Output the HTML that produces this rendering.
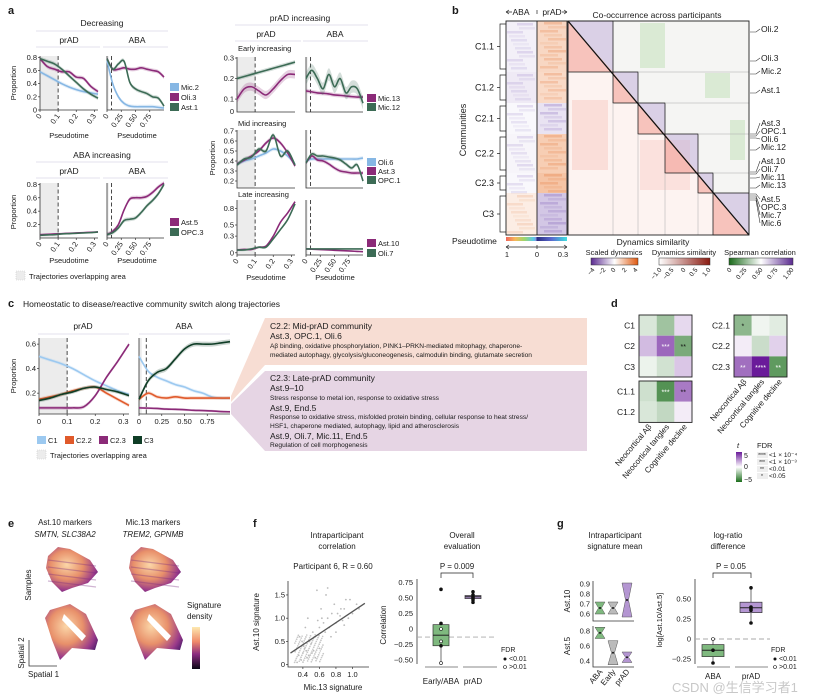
<!DOCTYPE html>
<html><head><meta charset="utf-8">
<style>
html,body{margin:0;padding:0;background:#fff;}
svg{display:block;font-family:"Liberation Sans","Noto Sans CJK SC",sans-serif;}
</style></head>
<body>
<svg id="fig" width="825" height="700" viewBox="0 0 825 700" xmlns="http://www.w3.org/2000/svg">
<defs>
<linearGradient id="gPseudo" x1="0" x2="1" y1="0" y2="0">
<stop offset="0" stop-color="#f0645a"/><stop offset="0.15" stop-color="#f7b85a"/><stop offset="0.3" stop-color="#9fd66a"/><stop offset="0.45" stop-color="#58c8e8"/><stop offset="0.5" stop-color="#8a90e0"/><stop offset="0.5" stop-color="#2a2c80"/><stop offset="0.75" stop-color="#5a6ad0"/><stop offset="1" stop-color="#3ee0e0"/></linearGradient>
<linearGradient id="gScaled" x1="0" x2="1"><stop offset="0" stop-color="#5a2a90"/><stop offset="0.5" stop-color="#ffffff"/><stop offset="1" stop-color="#e05a10"/></linearGradient>
<linearGradient id="gDyn" x1="0" x2="1"><stop offset="0" stop-color="#ffffff"/><stop offset="1" stop-color="#8a1a10"/></linearGradient>
<linearGradient id="gSpear" x1="0" x2="1"><stop offset="0" stop-color="#1a6a1a"/><stop offset="0.5" stop-color="#ffffff"/><stop offset="1" stop-color="#5a2a90"/></linearGradient>
<linearGradient id="gT" x1="0" x2="0" y1="0" y2="1"><stop offset="0" stop-color="#6a1b9a"/><stop offset="0.5" stop-color="#ffffff"/><stop offset="1" stop-color="#1b6e1b"/></linearGradient>
<linearGradient id="gSig" x1="0" x2="0" y1="0" y2="1"><stop offset="0" stop-color="#fde9b0"/><stop offset="0.35" stop-color="#f08a6a"/><stop offset="0.65" stop-color="#8a2a80"/><stop offset="1" stop-color="#0a0614"/></linearGradient>
<radialGradient id="gTis" cx="0.4" cy="0.4" r="0.7"><stop offset="0" stop-color="#fbd6a8"/><stop offset="0.45" stop-color="#e8906a"/><stop offset="0.8" stop-color="#9a3a8a"/><stop offset="1" stop-color="#4a1a6a"/></radialGradient>
</defs>
</svg>
<script>
const NS='http://www.w3.org/2000/svg';
const svg=document.getElementById('fig');

/* ---------- DATA ---------- */
const xPrad=[0,0.04,0.08,0.12,0.16,0.2,0.24,0.28,0.32];
const xAba=[0,0.1,0.2,0.3,0.4,0.5,0.6,0.7,0.8,0.9,1];
const decPradMic2=[0.58,0.52,0.46,0.40,0.35,0.31,0.28,0.26,0.24];
const decPradOli3=[0.78,0.66,0.62,0.58,0.58,0.50,0.48,0.36,0.28];
const decPradAst1=[0.78,0.74,0.70,0.62,0.52,0.42,0.32,0.24,0.18];
const decAbaMic2=[0.75,0.40,0.20,0.10,0.06,0.05,0.05,0.05,0.05,0.04,0.03];
const decAbaOli3=[0.78,0.62,0.62,0.64,0.62,0.62,0.64,0.62,0.60,0.58,0.50];
const decAbaAst1=[0.78,0.62,0.70,0.74,0.42,0.32,0.28,0.25,0.20,0.18,0.06];
const abaPradAst5=[0.05,0.055,0.06,0.065,0.07,0.075,0.08,0.085,0.09];
const abaPradOpc3=[0.04,0.045,0.05,0.06,0.065,0.07,0.075,0.08,0.09];
const abaAbaAst5=[0.05,0.10,0.20,0.42,0.58,0.60,0.60,0.62,0.68,0.76,0.82];
const abaAbaOpc3=[0.05,0.08,0.15,0.26,0.28,0.30,0.38,0.48,0.56,0.66,0.80];
const earlyPradMic13=[0.10,0.15,0.16,0.14,0.12,0.15,0.19,0.22,0.22];
const earlyPradMic12=[0.20,0.21,0.22,0.23,0.24,0.25,0.26,0.27,0.28];
const earlyAbaMic13=[0.14,0.135,0.13,0.128,0.125,0.12,0.118,0.115,0.112,0.11,0.11];
const earlyAbaMic12=[0.20,0.24,0.20,0.15,0.22,0.16,0.20,0.13,0.16,0.15,0.08];
const midPradOli6=[0.37,0.40,0.42,0.45,0.48,0.52,0.50,0.45,0.37];
const midPradAst3=[0.37,0.41,0.45,0.50,0.58,0.63,0.58,0.48,0.35];
const midPradOpc1=[0.36,0.42,0.44,0.52,0.50,0.66,0.45,0.50,0.36];
const midAbaOli6=[0.40,0.42,0.42,0.42,0.42,0.42,0.42,0.42,0.42,0.42,0.43];
const midAbaAst3=[0.38,0.45,0.41,0.40,0.37,0.33,0.30,0.29,0.28,0.28,0.28];
const midAbaOpc1=[0.38,0.47,0.45,0.45,0.44,0.43,0.41,0.37,0.33,0.36,0.20];
const latePradAst10=[0.05,0.06,0.06,0.10,0.12,0.30,0.55,0.72,0.92];
const latePradOli7=[0.05,0.05,0.07,0.10,0.10,0.25,0.42,0.60,0.88];
const lateAbaAst10=[0.07,0.065,0.06,0.055,0.05,0.045,0.04,0.035,0.03,0.025,0.02];
const lateAbaOli7=[0.07,0.07,0.07,0.07,0.07,0.07,0.07,0.07,0.07,0.07,0.07];
const cPradC1=[0.50,0.47,0.44,0.40,0.35,0.30,0.26,0.22,0.19];
const cPradC22=[0.15,0.17,0.19,0.22,0.24,0.25,0.20,0.15,0.10];
const cPradC23=[0.08,0.08,0.08,0.08,0.09,0.18,0.33,0.46,0.60];
const cPradC3=[0.14,0.16,0.19,0.21,0.24,0.25,0.23,0.21,0.18];
const cAbaC1=[0.50,0.38,0.33,0.30,0.27,0.25,0.22,0.20,0.17,0.16,0.16];
const cAbaC22=[0.15,0.20,0.17,0.16,0.17,0.16,0.16,0.16,0.16,0.16,0.16];
const cAbaC23=[0.08,0.078,0.075,0.07,0.068,0.065,0.06,0.058,0.055,0.05,0.048];
const cAbaC3=[0.15,0.30,0.37,0.40,0.48,0.56,0.60,0.60,0.60,0.61,0.62];
const communities=['C1.1','C1.2','C2.1','C2.2','C2.3','C3'];
const communityRows=[51,31,31,39,20,42];
const abaDyn=[-0.6,-0.8,-0.3,-0.4,-0.3,0.9];
const pradDyn=[1.6,1.5,-0.9,2.0,2.4,-1.8];
const dRowsLeft=['C1','C2','C3','C1.1','C1.2'];
const dRowsRight=['C2.1','C2.2','C2.3'];
const dCols=['Neocortical Aβ','Neocortical tangles','Cognitive decline'];
const tLeft=[[-1,-2.5,1],[1.8,4,-3.5],[-0.5,-1.2,1.5],[-1.3,-4.5,3.5],[-1,-1.6,0.5]];
const starsLeft=[['','',''],['','***','**'],['','',''],['','***','**'],['','','']];
const tRight=[[-3,-0.4,-0.8],[0.5,-1.4,1.2],[3.8,6,-4.2]];
const starsRight=[['*','',''],['','',''],['**','****','**']];
const scatterX=[0.3,0.35,0.4,0.42,0.45,0.5,0.55,0.6,0.65,0.7,0.75,0.8,0.85,0.9,0.95,1.0,1.05,0.38,0.44,0.48,0.52,0.58,0.62,0.68,0.72,0.78,0.82,0.88,0.92,0.36,0.41,0.47,0.53,0.57,0.63,0.67,0.74,0.86,0.97,1.08,0.33,0.39,0.43,0.46,0.51,0.55,0.6,0.7,0.8,0.9];
const scatterY=[0.3,0.2,0.25,0.35,0.15,0.45,0.6,0.8,0.9,1.0,1.1,0.9,1.05,1.2,1.0,1.1,1.3,0.1,0.3,0.5,0.7,0.95,1.2,1.5,0.8,1.3,1.1,0.95,1.4,0.6,0.4,0.2,0.3,1.6,1.0,0.7,0.6,1.2,1.4,1.2,0.05,0.5,0.8,1.0,0.25,0.15,0.35,1.65,0.7,0.85];
const fGroups=['Early/ABA','prAD'];
const fBox=[[-0.52,-0.27,-0.1,0.07,0.1],[0.43,0.49,0.52,0.54,0.6]];
const fPts=[[0.64,0.09,0,-0.2,-0.27,-0.55],[0.6,0.55,0.52,0.5,0.47,0.43]];
const fFilled=[[1,1,0,0,1,0],[1,1,1,1,1,1]];
const gGroups=['ABA','prAD'];
const gBox=[[-0.3,-0.22,-0.14,-0.07,0.0],[0.2,0.33,0.39,0.46,0.64]];
const gPts=[[0.0,-0.14,-0.3],[0.64,0.4,0.38,0.36,0.2]];
const violinGroups=['ABA','Early','prAD'];
const vAst10=[[0.6,0.72],[0.6,0.72],[0.57,0.91]];
const vAst5=[[0.7,0.85],[0.35,0.67],[0.38,0.52]];

/* ---------- HELPERS ---------- */
function mk(tag,attrs,name,parent){
  const e=document.createElementNS(NS,tag);
  for(const k in attrs) e.setAttribute(k,attrs[k]);
  
  
  (parent||svg).appendChild(e);
  return e;
}
function txt(x,y,s,size,anchor,name,o){
  o=o||{};
  const a={x:x,y:y,'font-size':size,'text-anchor':anchor||'start',fill:o.fill||'#1a1a1a'};
  if(o.rot!==undefined) a.transform=`rotate(${o.rot} ${x} ${y})`;
  if(o.italic) a['font-style']='italic';
  if(o.bold) a['font-weight']='bold';
  const t=mk('text',a,name);
  t.textContent=s;
  return t;
}
function sc(x0,y0,w,h,xd,yd){
  return {x0,y0,w,h,x:v=>x0+(v-xd[0])/(xd[1]-xd[0])*w,y:v=>y0+h-(v-yd[0])/(yd[1]-yd[0])*h};
}
function smooth(p){
  let d=`M${p[0][0].toFixed(2)},${p[0][1].toFixed(2)}`;
  for(let i=0;i<p.length-1;i++){
    const p0=p[i-1]||p[i],p1=p[i],p2=p[i+1],p3=p[i+2]||p2;
    d+=` C${(p1[0]+(p2[0]-p0[0])/6).toFixed(2)},${(p1[1]+(p2[1]-p0[1])/6).toFixed(2)} ${(p2[0]-(p3[0]-p1[0])/6).toFixed(2)},${(p2[1]-(p3[1]-p1[1])/6).toFixed(2)} ${p2[0].toFixed(2)},${p2[1].toFixed(2)}`;
  }
  return d;
}
function series(s,xs,ys,color,name,bw){
  bw=bw||0.03;
  const up=xs.map((x,i)=>[s.x(x),s.y(ys[i]+bw)]);
  const lo=xs.map((x,i)=>[s.x(x),s.y(ys[i]-bw)]).reverse();
  mk('path',{d:smooth(up)+' L'+lo[0][0]+','+lo[0][1]+smooth(lo).replace(/^M[^C]*/,' ')+' Z',fill:color,opacity:0.22,stroke:'none'},name+'-band');
  mk('path',{d:smooth(xs.map((x,i)=>[s.x(x),s.y(ys[i])])),fill:'none',stroke:color,'stroke-width':1.6},name+'-line');
}
function frame(s,type,name){
  if(type==='prad'){
    mk('rect',{x:s.x(0),y:s.y0,width:s.x(0.1)-s.x(0),height:s.h,fill:'#ececec'},name+'-overlap-area');
    mk('line',{x1:s.x(0.1),x2:s.x(0.1),y1:s.y0,y2:s.y0+s.h,stroke:'#333','stroke-width':0.9,'stroke-dasharray':'4,2.5'},name+'-cutoff');
  } else {
    mk('rect',{x:s.x(0),y:s.y0,width:s.x(0.03)-s.x(0),height:s.h,fill:'#ececec'},name+'-overlap-area');
    mk('line',{x1:s.x(0.08),x2:s.x(0.08),y1:s.y0,y2:s.y0+s.h,stroke:'#333','stroke-width':0.9,'stroke-dasharray':'4,2.5'},name+'-cutoff');
  }
  mk('path',{d:`M${s.x0},${s.y0} V${s.y0+s.h} H${s.x0+s.w}`,fill:'none',stroke:'#333','stroke-width':0.8},name+'-axes');
}
function yTicks(s,vals,labels,name){
  vals.forEach((v,i)=>{
    mk('line',{x1:s.x0-2,x2:s.x0,y1:s.y(v),y2:s.y(v),stroke:'#333','stroke-width':0.7},name+'-ytick');
    txt(s.x0-3,s.y(v)+2.5,labels[i],7.5,'end',name+'-ytick-label');
  });
}
function xTicks(s,vals,labels,name,rot){
  vals.forEach((v,i)=>{
    mk('line',{x1:s.x(v),x2:s.x(v),y1:s.y0+s.h,y2:s.y0+s.h+2,stroke:'#333','stroke-width':0.7},name+'-xtick');
    if(rot) txt(s.x(v)+2,s.y0+s.h+6,labels[i],7.5,'end',name+'-xtick-label',{rot:-55});
    else txt(s.x(v),s.y0+s.h+10,labels[i],7.5,'middle',name+'-xtick-label');
  });
}
function legend(x,y,label,color,name){
  mk('rect',{x:x,y:y-6,width:9,height:8,fill:color},name+'-swatch');
  txt(x+11,y+1,label,7.5,'start',name+'-label');
}
function hline(x1,x2,y,name){mk('line',{x1,x2,y1:y,y2:y,stroke:'#e3e0ee','stroke-width':1},name);}

const cMic2='#86b7e4',cPur='#8b2a78',cGrn='#3c6b55';

/* ---------- PANEL A ---------- */
txt(8,14,'a',11,'start','panel-a-label',{bold:true});
txt(102,26,'Decreasing',8.5,'middle','decreasing-title');
hline(36,168,31,'decreasing-title-rule');
txt(69,43,'prAD',8.5,'middle','decreasing-prad-strip'); txt(137,43,'ABA',8.5,'middle','decreasing-aba-strip');
hline(36,100,47,'strip-rule'); hline(103,168,47,'strip-rule');
let s=sc(40,56,58,54,[0,0.32],[0,0.82]);
frame(s,'prad','decreasing-prad-plot');
series(s,xPrad,decPradMic2,cMic2,'decreasing-prad-mic2');
series(s,xPrad,decPradOli3,cPur,'decreasing-prad-oli3');
series(s,xPrad,decPradAst1,cGrn,'decreasing-prad-ast1');
yTicks(s,[0,0.2,0.4,0.6,0.8],['0','0.2','0.4','0.6','0.8'],'decreasing-prad');
xTicks(s,[0,0.1,0.2,0.3],['0','0.1','0.2','0.3'],'decreasing-prad',true);
s=sc(107,56,57,54,[0,1],[0,0.82]);
frame(s,'aba','decreasing-aba-plot');
series(s,xAba,decAbaMic2,cMic2,'decreasing-aba-mic2');
series(s,xAba,decAbaOli3,cPur,'decreasing-aba-oli3');
series(s,xAba,decAbaAst1,cGrn,'decreasing-aba-ast1');
xTicks(s,[0,0.25,0.5,0.75],['0','0.25','0.50','0.75'],'decreasing-aba',true);
txt(16,83,'Proportion',7.5,'middle','decreasing-y-title',{rot:-90});
txt(69,138,'Pseudotime',7.5,'middle','x-title'); txt(137,138,'Pseudotime',7.5,'middle','x-title');
legend(170,89,'Mic.2',cMic2,'legend-mic2'); legend(170,99,'Oli.3',cPur,'legend-oli3'); legend(170,109,'Ast.1',cGrn,'legend-ast1');

txt(102,158,'ABA increasing',8.5,'middle','aba-increasing-title');
hline(36,168,162,'rule');
txt(69,174,'prAD',8.5,'middle','strip'); txt(137,174,'ABA',8.5,'middle','strip');
hline(36,100,178,'rule'); hline(103,168,178,'rule');
s=sc(40,183,58,55,[0,0.32],[0,0.82]);
frame(s,'prad','aba-inc-prad-plot');
series(s,xPrad,abaPradAst5,cPur,'aba-inc-prad-ast5',0.01);
series(s,xPrad,abaPradOpc3,cGrn,'aba-inc-prad-opc3',0.01);
yTicks(s,[0.2,0.4,0.6,0.8],['0.2','0.4','0.6','0.8'],'aba-inc-prad');
xTicks(s,[0,0.1,0.2,0.3],['0','0.1','0.2','0.3'],'aba-inc-prad',true);
s=sc(107,183,57,55,[0,1],[0,0.82]);
frame(s,'aba','aba-inc-aba-plot');
series(s,xAba,abaAbaAst5,cPur,'aba-inc-aba-ast5');
series(s,xAba,abaAbaOpc3,cGrn,'aba-inc-aba-opc3');
xTicks(s,[0,0.25,0.5,0.75],['0','0.25','0.50','0.75'],'aba-inc-aba',true);
txt(16,212,'Proportion',7.5,'middle','y-title',{rot:-90});
txt(69,263,'Pseudotime',7.5,'middle','x-title'); txt(137,263,'Pseudotime',7.5,'middle','x-title');
legend(170,224,'Ast.5',cPur,'legend-ast5'); legend(170,234,'OPC.3',cGrn,'legend-opc3');
mk('rect',{x:16,y:271,width:9,height:9,fill:'#ececec',stroke:'#ccc','stroke-dasharray':'1,1','stroke-width':0.6},'overlap-legend-swatch');
txt(29,279,'Trajectories overlapping area',7.5,'start','overlap-legend-label');

txt(300,21,'prAD increasing',8.5,'middle','prad-increasing-title');
hline(235,368,25,'rule');
txt(266,37,'prAD',8.5,'middle','strip'); txt(335,37,'ABA',8.5,'middle','strip');
hline(235,301,41,'rule'); hline(303,368,41,'rule');
txt(238,51,'Early increasing',7.5,'start','early-increasing-label');
s=sc(237,57,58,55,[0,0.32],[0.037,0.305]);
frame(s,'prad','early-prad-plot');
series(s,xPrad,earlyPradMic13,cPur,'early-prad-mic13',0.02);
series(s,xPrad,earlyPradMic12,cGrn,'early-prad-mic12',0.01);
yTicks(s,[0.1,0.2,0.3],['0.1','0.2','0.3'],'early-prad');
txt(234,114,'0',7.5,'end','early-zero-label');
let s2=sc(306,57,57,55,[0,1],[0.037,0.305]);
frame(s2,'aba','early-aba-plot');
series(s2,xAba,earlyAbaMic13,cPur,'early-aba-mic13',0.01);
series(s2,xAba,earlyAbaMic12,cGrn,'early-aba-mic12',0.03);
legend(367,100,'Mic.13',cPur,'legend-mic13'); legend(367,109,'Mic.12',cGrn,'legend-mic12');
txt(238,126,'Mid increasing',7.5,'start','mid-increasing-label');
s=sc(237,130,58,58,[0,0.32],[0.13,0.71]);
frame(s,'prad','mid-prad-plot');
series(s,xPrad,midPradOli6,cMic2,'mid-prad-oli6',0.02);
series(s,xPrad,midPradAst3,cPur,'mid-prad-ast3',0.02);
series(s,xPrad,midPradOpc1,cGrn,'mid-prad-opc1',0.02);
yTicks(s,[0.2,0.3,0.4,0.5,0.6,0.7],['0.2','0.3','0.4','0.5','0.6','0.7'],'mid-prad');
s2=sc(306,130,57,58,[0,1],[0.13,0.71]);
frame(s2,'aba','mid-aba-plot');
series(s2,xAba,midAbaOli6,cMic2,'mid-aba-oli6',0.02);
series(s2,xAba,midAbaAst3,cPur,'mid-aba-ast3',0.02);
series(s2,xAba,midAbaOpc1,cGrn,'mid-aba-opc1',0.02);
legend(367,164,'Oli.6',cMic2,'legend-oli6'); legend(367,173,'Ast.3',cPur,'legend-ast3'); legend(367,182,'OPC.1',cGrn,'legend-opc1');
txt(215,158,'Proportion',7.5,'middle','y-title',{rot:-90});
txt(238,197,'Late increasing',7.5,'start','late-increasing-label');
s=sc(237,200,58,55,[0,0.32],[-0.04,0.95]);
frame(s,'prad','late-prad-plot');
series(s,xPrad,latePradAst10,cPur,'late-prad-ast10',0.02);
series(s,xPrad,latePradOli7,cGrn,'late-prad-oli7',0.02);
yTicks(s,[0,0.3,0.5,0.8],['0','0.3','0.5','0.8'],'late-prad');
xTicks(s,[0,0.1,0.2,0.3],['0','0.1','0.2','0.3'],'late-prad',true);
s2=sc(306,200,57,55,[0,1],[-0.04,0.95]);
frame(s2,'aba','late-aba-plot');
series(s2,xAba,lateAbaAst10,cPur,'late-aba-ast10',0.01);
series(s2,xAba,lateAbaOli7,cGrn,'late-aba-oli7',0.01);
xTicks(s2,[0,0.25,0.5,0.75],['0','0.25','0.50','0.75'],'late-aba',true);
legend(367,245,'Ast.10',cPur,'legend-ast10'); legend(367,255,'Oli.7',cGrn,'legend-oli7');
txt(266,280,'Pseudotime',7.5,'middle','x-title'); txt(335,280,'Pseudotime',7.5,'middle','x-title');

/* ---------- PANEL B ---------- */
txt(452,14,'b',11,'start','panel-b-label',{bold:true});
txt(521,15,'ABA',8.5,'middle','b-aba-header'); txt(552,15,'prAD',8.5,'middle','b-prad-header');
txt(657,18,'Co-occurrence across participants',8.5,'middle','b-matrix-title');
function dynColor(v,a){ return v>=0 ? `rgba(232,120,50,${Math.min(1,v/3)*a})` : `rgba(120,85,175,${Math.min(1,-v/3)*a})`; }
let yy=21;
communityRows.forEach((r,i)=>{
  const h=r;
  mk('rect',{x:506,y:yy,width:31,height:h,fill:dynColor(abaDyn[i],0.45)},'aba-dynamics-'+communities[i]);
  mk('rect',{x:537,y:yy,width:30,height:h,fill:dynColor(pradDyn[i],0.55)},'prad-dynamics-'+communities[i]);
  for(let k=1;k<h-2;k+=4){
    const op=0.08+((k*13)%7)/40;
    mk('rect',{x:537+((k*7)%12),y:yy+k,width:18,height:2.5,fill:pradDyn[i]>0?`rgba(225,100,30,${op})`:`rgba(100,60,170,${op})`},'dynamics-row');
    mk('rect',{x:506+((k*11)%14),y:yy+k+1,width:16,height:2.5,fill:abaDyn[i]>0?`rgba(230,130,70,${op*0.8})`:`rgba(130,100,190,${op*0.8})`},'dynamics-row');
  }
  txt(494,yy+h/2+3,communities[i],9,'end','community-label-'+communities[i]);
  mk('path',{d:`M506,${yy+3} H500 V${yy+h-3} H506 M500,${yy+h/2} H497`,fill:'none',stroke:'#222','stroke-width':0.7},'dendrogram');
  yy+=h;
});
mk('rect',{x:506,y:21,width:61,height:214,fill:'none',stroke:'#222','stroke-width':0.9},'b-left-heatmap-border');
mk('line',{x1:537,x2:537,y1:21,y2:235,stroke:'#222','stroke-width':0.9},'b-heatmap-divider');
mk('path',{d:'M506,12 H512 M506,12 l3,-2 M506,12 l3,2 M567,12 H562 M567,12 l-3,-2 M567,12 l-3,2 M537,10 V14',stroke:'#222','stroke-width':0.7,fill:'none'},'b-header-arrow');
txt(466,130,'Communities',9,'middle','communities-axis-title',{rot:-90});
const M0=568,M1=749,T0=21,T1=235;
mk('rect',{x:M0,y:T0,width:M1-M0,height:T1-T0,fill:'#fff'},'matrix-bg');
mk('polygon',{points:`${M0},${T0} ${M0},${T1} ${M1},${T1}`,fill:'#fdf3f1'},'matrix-lower-dynamics-similarity');
mk('polygon',{points:`${M0},${T0} ${M1},${T0} ${M1},${T1}`,fill:'#f5f5f3'},'matrix-upper-spearman');
const blk=[568,613,638,665,698,713,749], blkY=[21,72,103,134,173,193,235];
const gp=[[640,23,25,45],[705,73,25,25],[730,120,15,40]];
gp.forEach(g=>mk('rect',{x:g[0],y:g[1],width:g[2],height:g[3],fill:'#cfe6c6',opacity:0.7},'spearman-green-patch'));
mk('rect',{x:572,y:100,width:36,height:70,fill:'#f9d0ca',opacity:0.6},'similarity-patch');
mk('rect',{x:640,y:140,width:50,height:50,fill:'#f9d0ca',opacity:0.5},'similarity-patch');
for(let i=0;i<6;i++){
  const x0=blk[i],x1=blk[i+1],y0=blkY[i],y1=blkY[i+1];
  mk('polygon',{points:`${x0},${y0} ${x0},${y1} ${x1},${y1}`,fill:'#f39a90',opacity:0.55},'block-similarity-'+communities[i]);
  mk('polygon',{points:`${x0},${y0} ${x1},${y0} ${x1},${y1}`,fill:'#c2b0da',opacity:0.55},'block-cooccurrence-'+communities[i]);
  mk('rect',{x:x0,y:y0,width:x1-x0,height:y1-y0,fill:'none',stroke:'#222','stroke-width':0.8},'block-outline-'+communities[i]);
  mk('path',{d:`M${x0},${y1} V${T1} M${x1},${y0} H${M1}`,stroke:'#aaa','stroke-width':0.5,fill:'none'},'block-guides');
}
mk('line',{x1:M0,y1:T0,x2:M1,y2:T1,stroke:'#111','stroke-width':1.3},'matrix-diagonal');
mk('rect',{x:M0,y:T0,width:M1-M0,height:T1-T0,fill:'none',stroke:'#222','stroke-width':0.9},'matrix-border');
const rl=[['Oli.2',32,32],['Oli.3',61,61],['Mic.2',74,74],['Ast.1',93,93],['Ast.3',126,134],['OPC.1',134,136],['Oli.6',142,138],['Mic.12',150,150],['Ast.10',164,172],['Oli.7',172,174],['Mic.11',180,178],['Mic.13',188,188],['Ast.5',202,194],['OPC.3',210,196],['Mic.7',218,198],['Mic.6',226,200]];
rl.forEach(r=>{
  mk('path',{d:`M750,${r[2]} L756,${r[2]} L760,${r[1]-3}`,fill:'none',stroke:'#333','stroke-width':0.6},'label-leader');
  txt(761,r[1],r[0],8.5,'start','matrix-row-label-'+r[0]);
});
txt(452,244,'Pseudotime',8.5,'start','pseudotime-label');
mk('rect',{x:506,y:237,width:61,height:4,fill:'url(#gPseudo)'},'pseudotime-colorbar');
mk('path',{d:'M506,247 H567 M506,247 l3,-2 M506,247 l3,2 M567,247 l-3,-2 M567,247 l-3,2 M537,245 V249',stroke:'#222','stroke-width':0.7,fill:'none'},'pseudotime-arrow');
txt(507,257,'1',7.5,'middle','pt-tick'); txt(537,257,'0',7.5,'middle','pt-tick'); txt(563,257,'0.3',7.5,'middle','pt-tick');
txt(653,245,'Dynamics similarity',8.5,'middle','dynamics-similarity-axis-title');
txt(614,255,'Scaled dynamics',7.5,'middle','scaled-dynamics-legend-title');
mk('rect',{x:591,y:258,width:47,height:7,fill:'url(#gScaled)',stroke:'#333','stroke-width':0.5},'scaled-dynamics-colorbar');
[['−4',593],['−2',604],['0',614],['2',625],['4',636]].forEach(t=>txt(t[1]+2,270,t[0],6.5,'end','scaled-tick',{rot:-50}));
txt(684,255,'Dynamics similarity',7.5,'middle','dynamics-similarity-legend-title');
mk('rect',{x:659,y:258,width:51,height:7,fill:'url(#gDyn)',stroke:'#333','stroke-width':0.5},'dynamics-similarity-colorbar');
[['−1.0',660],['−0.5',672],['0',684],['0.5',696],['1.0',709]].forEach(t=>txt(t[1]+2,270,t[0],6.5,'end','dyn-tick',{rot:-50}));
txt(760,255,'Spearman correlation',7.5,'middle','spearman-legend-title');
mk('rect',{x:729,y:258,width:64,height:7,fill:'url(#gSpear)',stroke:'#333','stroke-width':0.5},'spearman-colorbar');
[['0',730],['0.25',745],['0.50',761],['0.75',776],['1.00',792]].forEach(t=>txt(t[1]+2,270,t[0],6.5,'end','spear-tick',{rot:-50}));

/* ---------- PANEL C ---------- */
txt(8,307,'c',11,'start','panel-c-label',{bold:true});
txt(23,307,'Homeostatic to disease/reactive community switch along trajectories',8.5,'start','panel-c-title');
txt(83,329,'prAD',8.5,'middle','c-prad-strip'); txt(184,329,'ABA',8.5,'middle','c-aba-strip');
hline(38,129,334,'rule'); hline(139,230,334,'rule');
const cC1='#9cc9f0',cC22='#e05a2b',cC23='#8b2a78',cC3='#0f3d26';
mk('polygon',{points:'231,396 265,318 265,365 231,402',fill:'#f7ddd3'},'c22-connector');
mk('polygon',{points:'231,404 265,371 265,451 231,414',fill:'#e6d5e4'},'c23-connector');
s=sc(39,338,90,76,[0,0.32],[0.03,0.65]);
frame(s,'prad','c-prad-plot');
series(s,xPrad,cPradC1,cC1,'c-prad-c1',0.015);
series(s,xPrad,cPradC22,cC22,'c-prad-c22',0.015);
series(s,xPrad,cPradC23,cC23,'c-prad-c23',0.015);
series(s,xPrad,cPradC3,cC3,'c-prad-c3',0.015);
yTicks(s,[0.2,0.4,0.6],['0.2','0.4','0.6'],'c-prad');
xTicks(s,[0,0.1,0.2,0.3],['0','0.1','0.2','0.3'],'c-prad',false);
s2=sc(139,338,91,76,[0,1],[0.03,0.65]);
frame(s2,'aba','c-aba-plot');
series(s2,xAba,cAbaC1,cC1,'c-aba-c1',0.015);
series(s2,xAba,cAbaC22,cC22,'c-aba-c22',0.015);
series(s2,xAba,cAbaC23,cC23,'c-aba-c23',0.01);
series(s2,xAba,cAbaC3,cC3,'c-aba-c3',0.02);
xTicks(s2,[0,0.25,0.5,0.75],['0','0.25','0.50','0.75'],'c-aba',false);
txt(16,376,'Proportion',7.5,'middle','c-y-title',{rot:-90});
legend(37,442,'C1',cC1,'legend-c1'); legend(65,442,'C2.2',cC22,'legend-c22'); legend(99,442,'C2.3',cC23,'legend-c23'); legend(133,442,'C3',cC3,'legend-c3');
mk('rect',{x:37,y:450,width:9,height:9,fill:'#ececec',stroke:'#ccc','stroke-dasharray':'1,1','stroke-width':0.6},'overlap-legend-swatch');
txt(50,458,'Trajectories overlapping area',7.5,'start','overlap-legend-label');
mk('rect',{x:265,y:318,width:322,height:47,fill:'#f7ddd3'},'c22-box');
mk('rect',{x:265,y:371,width:322,height:80,fill:'#e6d5e4'},'c23-box');
const boxT=[[329,'C2.2: Mid-prAD community',8.5],[339,'Ast.3, OPC.1, Oli.6',8.5],[348,'Aβ binding, oxidative phosphorylation, PINK1–PRKN-mediated mitophagy, chaperone-',6.6],[357,'mediated autophagy, glycolysis/gluconeogenesis, calmodulin binding, glutamate secretion',6.6],
[381,'C2.3: Late-prAD community',8.5],[391,'Ast.9–10',8.5],[400,'Stress response to metal ion, response to oxidative stress',6.6],[411,'Ast.9, End.5',8.5],[419,'Response to oxidative stress, misfolded protein binding, cellular response to heat stress/',6.6],[428,'HSF1, chaperone mediated, autophagy, lipid and atherosclerosis',6.6],[439,'Ast.9, Oli.7, Mic.11, End.5',8.5],[447,'Regulation of cell morphogenesis',6.6]];
boxT.forEach(b=>txt(270,b[0],b[1],b[2],'start','c-box-text'));

/* ---------- PANEL D ---------- */
txt(611,307,'d',11,'start','panel-d-label',{bold:true});
function tCol(v){
  const f=Math.min(1,Math.abs(v)/6);
  if(v>=0){const r=Math.round(255-(255-106)*f),g=Math.round(255-(255-27)*f),b=Math.round(255-(255-154)*f);return `rgb(${r},${g},${b})`;}
  const r=Math.round(255-(255-27)*f),g=Math.round(255-(255-110)*f),b=Math.round(255-(255-27)*f);return `rgb(${r},${g},${b})`;
}
function dGrid(x0,rows,tv,st,ys,name){
  const cw=17.7,rh=20.7;
  rows.forEach((r,i)=>{
    const y=ys[i];
    tv[i].forEach((v,j)=>{
      mk('rect',{x:x0+j*cw,y:y,width:cw,height:rh,fill:tCol(v)},name+'-cell-'+r+'-'+j);
      if(st[i][j]) txt(x0+j*cw+cw/2,y+rh/2+3,st[i][j],7,'middle','fdr-stars',{fill:Math.abs(v)>3.5?'#fff':'#111'});
    });
    txt(x0-4,y+rh/2+3,r,8.5,'end','d-row-label-'+r);
  });
}
dGrid(639,dRowsLeft.slice(0,3),tLeft.slice(0,3),starsLeft.slice(0,3),[315,335.7,356.4],'d-left');
mk('rect',{x:639,y:315,width:53,height:62,fill:'none',stroke:'#222','stroke-width':0.9},'d-grid-border');
dGrid(639,dRowsLeft.slice(3),tLeft.slice(3),starsLeft.slice(3),[381,401.7],'d-left');
mk('rect',{x:639,y:381,width:53,height:41.4,fill:'none',stroke:'#222','stroke-width':0.9},'d-grid-border');
dGrid(734,dRowsRight,tRight,starsRight,[315,335.7,356.4],'d-right');
mk('rect',{x:734,y:315,width:53,height:62,fill:'none',stroke:'#222','stroke-width':0.9},'d-grid-border');
dCols.forEach((c,j)=>{
  txt(639+j*17.7+13,427,c,8,'end','d-col-label',{rot:-50});
  txt(734+j*17.7+13,382,c,8,'end','d-col-label',{rot:-50});
});
txt(737,448,'t',7.5,'start','t-legend-title',{italic:true});
mk('rect',{x:736,y:452,width:6,height:30,fill:'url(#gT)'},'t-colorbar');
txt(744,458,'5',7,'start','t-tick'); txt(744,469,'0',7,'start','t-tick'); txt(744,482,'−5',7,'start','t-tick');
txt(757,448,'FDR',7.5,'start','fdr-legend-title');
[['****','<1 × 10⁻⁴',457],['***','<1 × 10⁻³',464],['**','<0.01',471],['*','<0.05',478]].forEach(f=>{
  mk('rect',{x:757,y:f[2]-5,width:11,height:6,fill:'#eee'},'fdr-key');
  txt(762,f[2],f[0],5,'middle','fdr-stars');
  txt(769,f[2],f[1],6.5,'start','fdr-label');
});

/* ---------- PANEL E ---------- */
txt(8,527,'e',11,'start','panel-e-label',{bold:true});
txt(65,525,'Ast.10 markers',8,'middle','e-ast10-title'); txt(65,537,'SMTN, SLC38A2',8,'middle','e-ast10-genes',{italic:true});
txt(153,525,'Mic.13 markers',8,'middle','e-mic13-title'); txt(153,537,'TREM2, GPNMB',8,'middle','e-mic13-genes',{italic:true});
function tissueTop(dx,name){
  mk('polygon',{points:`${48+dx},556 ${58+dx},547 ${70+dx},549 ${90+dx},560 ${98+dx},572 ${88+dx},583 ${72+dx},588 ${62+dx},592 ${52+dx},582 ${46+dx},568`,fill:'url(#gTis)'},name);
  for(let k=0;k<4;k++) mk('line',{x1:48+dx,x2:96+dx,y1:560+k*7,y2:566+k*7,stroke:'#7a2a80','stroke-width':1.2,opacity:0.35},name+'-stripe');
}
function tissueBot(dx,name){
  mk('polygon',{points:`${50+dx},610 ${70+dx},604 ${86+dx},614 ${98+dx},640 ${95+dx},650 ${72+dx},648 ${60+dx},660 ${52+dx},640 ${45+dx},618`,fill:'url(#gTis)'},name);
  mk('polygon',{points:`${64+dx},614 ${86+dx},636 ${82+dx},641 ${62+dx},620`,fill:'#fff'},name+'-gap');
}
tissueTop(0,'e-ast10-sample1'); tissueTop(83,'e-mic13-sample1');
tissueBot(0,'e-ast10-sample2'); tissueBot(85,'e-mic13-sample2');
txt(31,585,'Samples',8,'middle','samples-label',{rot:-90});
mk('path',{d:'M29,640 V666 H57',fill:'none',stroke:'#333','stroke-width':0.8},'spatial-axes');
txt(24,653,'Spatial 2',8,'middle','spatial2-label',{rot:-90});
txt(28,677,'Spatial 1',8,'start','spatial1-label');
txt(187,608,'Signature',8,'start','signature-density-title'); txt(187,619,'density',8,'start','signature-density-title');
mk('rect',{x:192,y:627,width:8,height:42,fill:'url(#gSig)'},'signature-density-colorbar');

/* ---------- PANEL F ---------- */
txt(253,527,'f',11,'start','panel-f-label',{bold:true});
txt(337,538,'Intraparticipant',8,'middle','f-scatter-title'); txt(337,549,'correlation',8,'middle','f-scatter-title');
txt(462,538,'Overall',8,'middle','f-box-title'); txt(462,549,'evaluation',8,'middle','f-box-title');
txt(333,569,'Participant 6, R = 0.60',8,'middle','participant-label');
s=sc(288,581,81,86,[0.22,1.2],[-0.05,1.8]);
scatterX.forEach((x,i)=>mk('circle',{cx:s.x(x),cy:s.y(scatterY[i]),r:0.9,fill:'#bbb'},'scatter-point'));
for(let k=0;k<160;k++){ const x=0.3+((k*37)%100)/100*0.35, y=0.05+((k*53)%100)/100*0.6; mk('circle',{cx:s.x(x),cy:s.y(y),r:0.8,fill:'#c8c8c8'},'scatter-point'); }
mk('line',{x1:s.x(0.25),y1:s.y(0.25),x2:s.x(1.15),y2:s.y(1.32),stroke:'#555','stroke-width':1.3},'regression-line');
mk('path',{d:`M${s.x0},${s.y0} V${s.y0+s.h} H${s.x0+s.w}`,fill:'none',stroke:'#333','stroke-width':0.8},'f-scatter-axes');
yTicks(s,[0,0.5,1.0,1.5],['0','0.5','1.0','1.5'],'f-scatter');
xTicks(s,[0.4,0.6,0.8,1.0],['0.4','0.6','0.8','1.0'],'f-scatter',false);
txt(333,690,'Mic.13 signature',8,'middle','f-x-title');
txt(259,622,'Ast.10 signature',8,'middle','f-y-title',{rot:-90});
const fy=v=>629-62*v;
mk('line',{x1:417,x2:417,y1:579,y2:664,stroke:'#333','stroke-width':0.8},'f-box-yaxis');
mk('line',{x1:425,x2:458,y1:667,y2:667,stroke:'#888','stroke-width':1},'f-box-xaxis');
mk('line',{x1:463,x2:497,y1:667,y2:667,stroke:'#888','stroke-width':1},'f-box-xaxis');
[[0.75,'0.75'],[0.5,'0.50'],[0.25,'0.25'],[0,'0'],[-0.25,'−0.25'],[-0.5,'−0.50']].forEach(t=>{txt(413,fy(t[0])+2.5,t[1],7.5,'end','f-box-ytick');});
mk('line',{x1:417,x2:497,y1:fy(-0.13),y2:fy(-0.13),stroke:'#aaa','stroke-dasharray':'5,3','stroke-width':0.9},'f-reference-line');
const fCx=[441,473],fCol=['#7fb97f','#b496d2'];
fGroups.forEach((g,i)=>{
  const b=fBox[i],cx=fCx[i];
  mk('line',{x1:cx,x2:cx,y1:fy(b[0]),y2:fy(b[4]),stroke:'#333','stroke-width':0.7},'f-whisker-'+g);
  mk('rect',{x:cx-8,y:fy(b[3]),width:16,height:fy(b[1])-fy(b[3]),fill:fCol[i],stroke:'#333','stroke-width':0.7},'f-box-'+g);
  mk('line',{x1:cx-8,x2:cx+8,y1:fy(b[2]),y2:fy(b[2]),stroke:'#222','stroke-width':1},'f-median-'+g);
  fPts[i].forEach((p,k)=>mk('circle',{cx:cx,cy:fy(p),r:1.5,fill:fFilled[i][k]?'#111':'#fff',stroke:'#111','stroke-width':0.6},'f-point'));
  txt(cx,684,g,8,'middle','f-xlabel-'+g);
});
txt(386,625,'Correlation',8,'middle','f-box-y-title',{rot:-90});
txt(457,569,'P = 0.009',8,'middle','f-pvalue');
mk('path',{d:'M441,578 V573 H473 V578',fill:'none',stroke:'#222','stroke-width':0.7},'f-bracket');
txt(501,652,'FDR',7,'start','f-fdr-title');
mk('circle',{cx:505,cy:659,r:1.5,fill:'#111'},'fdr-filled'); txt(509,661,'<0.01',7,'start','fdr-label');
mk('circle',{cx:505,cy:667,r:1.5,fill:'#fff',stroke:'#111','stroke-width':0.6},'fdr-open'); txt(509,669,'>0.01',7,'start','fdr-label');

/* ---------- PANEL G ---------- */
txt(557,527,'g',11,'start','panel-g-label',{bold:true});
txt(615,538,'Intraparticipant',8,'middle','g-violin-title'); txt(615,549,'signature mean',8,'middle','g-violin-title');
txt(728,538,'log-ratio',8,'middle','g-box-title'); txt(728,549,'difference',8,'middle','g-box-title');
const vCx=[600,613,627],vCol=['#7fb97f','#bbbbbb','#b496d2'];
const v10=v=>614-(v-0.6)*100, v5=v=>661-(v-0.4)*75;
mk('path',{d:'M593,581 V621 H634',fill:'none',stroke:'#333','stroke-width':0.8},'g-ast10-axes');
mk('path',{d:'M593,626 V667 H634',fill:'none',stroke:'#333','stroke-width':0.8},'g-ast5-axes');
[[0.9,'0.9'],[0.8,'0.8'],[0.7,'0.7'],[0.6,'0.6']].forEach(t=>txt(590,v10(t[0])+2.5,t[1],7.5,'end','g-ast10-tick'));
[[0.8,'0.8'],[0.6,'0.6'],[0.4,'0.4']].forEach(t=>txt(590,v5(t[0])+2.5,t[1],7.5,'end','g-ast5-tick'));
function violin(cx,lo,hi,fy2,col,name){
  const a=fy2(hi),b=fy2(lo),m=(a+b)/2;
  mk('path',{d:`M${cx-5},${a} L${cx+5},${a} L${cx+1.5},${m} L${cx+5},${b} L${cx-5},${b} L${cx-1.5},${m} Z`,fill:col,stroke:'#555','stroke-width':0.5},name);
  mk('circle',{cx:cx,cy:m,r:1,fill:'#111'},name+'-point');
}
violinGroups.forEach((g,i)=>{
  violin(vCx[i],vAst10[i][0],vAst10[i][1],v10,vCol[i],'violin-ast10-'+g);
  violin(vCx[i],vAst5[i][0],vAst5[i][1],v5,vCol[i],'violin-ast5-'+g);
  txt(vCx[i]+3,672,g,8,'end','g-violin-xlabel-'+g,{rot:-50});
});
txt(570,601,'Ast.10',8,'middle','g-ast10-label',{rot:-90});
txt(570,646,'Ast.5',8,'middle','g-ast5-label',{rot:-90});
const gy=v=>639-80*v;
mk('line',{x1:695,x2:695,y1:579,y2:664,stroke:'#333','stroke-width':0.8},'g-box-yaxis');
mk('line',{x1:697,x2:730,y1:667,y2:667,stroke:'#888','stroke-width':1},'g-box-xaxis');
mk('line',{x1:735,x2:768,y1:667,y2:667,stroke:'#888','stroke-width':1},'g-box-xaxis');
[[0.5,'0.50'],[0.25,'0.25'],[0,'0'],[-0.25,'−0.25']].forEach(t=>txt(691,gy(t[0])+2.5,t[1],7.5,'end','g-box-ytick'));
mk('line',{x1:695,x2:770,y1:gy(0),y2:gy(0),stroke:'#aaa','stroke-dasharray':'5,3','stroke-width':0.9},'g-reference-line');
const gCx=[713,751],gCol=['#7fb97f','#b496d2'];
gGroups.forEach((g,i)=>{
  const b=gBox[i],cx=gCx[i];
  mk('line',{x1:cx,x2:cx,y1:gy(b[0]),y2:gy(b[4]),stroke:'#333','stroke-width':0.7},'g-whisker-'+g);
  mk('rect',{x:cx-11,y:gy(b[3]),width:22,height:gy(b[1])-gy(b[3]),fill:gCol[i],stroke:'#333','stroke-width':0.7},'g-box-'+g);
  mk('line',{x1:cx-11,x2:cx+11,y1:gy(b[2]),y2:gy(b[2]),stroke:'#222','stroke-width':1},'g-median-'+g);
  gPts[i].forEach((p,k)=>mk('circle',{cx:cx,cy:gy(p),r:1.5,fill:(i===0&&k===0)?'#fff':'#111',stroke:'#111','stroke-width':0.6},'g-point'));
  txt(cx,679,g,8,'middle','g-xlabel-'+g);
});
txt(662,620,'log[Ast.10/Ast.5]',7.5,'middle','g-y-title',{rot:-90});
txt(731,569,'P = 0.05',8,'middle','g-pvalue');
mk('path',{d:'M713,578 V573 H751 V578',fill:'none',stroke:'#222','stroke-width':0.7},'g-bracket');
txt(771,652,'FDR',7,'start','g-fdr-title');
mk('circle',{cx:775,cy:659,r:1.5,fill:'#111'},'fdr-filled'); txt(779,661,'<0.01',7,'start','fdr-label');
mk('circle',{cx:775,cy:667,r:1.5,fill:'#fff',stroke:'#111','stroke-width':0.6},'fdr-open'); txt(779,669,'>0.01',7,'start','fdr-label');
txt(672,692,'CSDN @生信学习者1',13,'start','watermark',{fill:'#c8c8c8'});
</script>
</body></html>
